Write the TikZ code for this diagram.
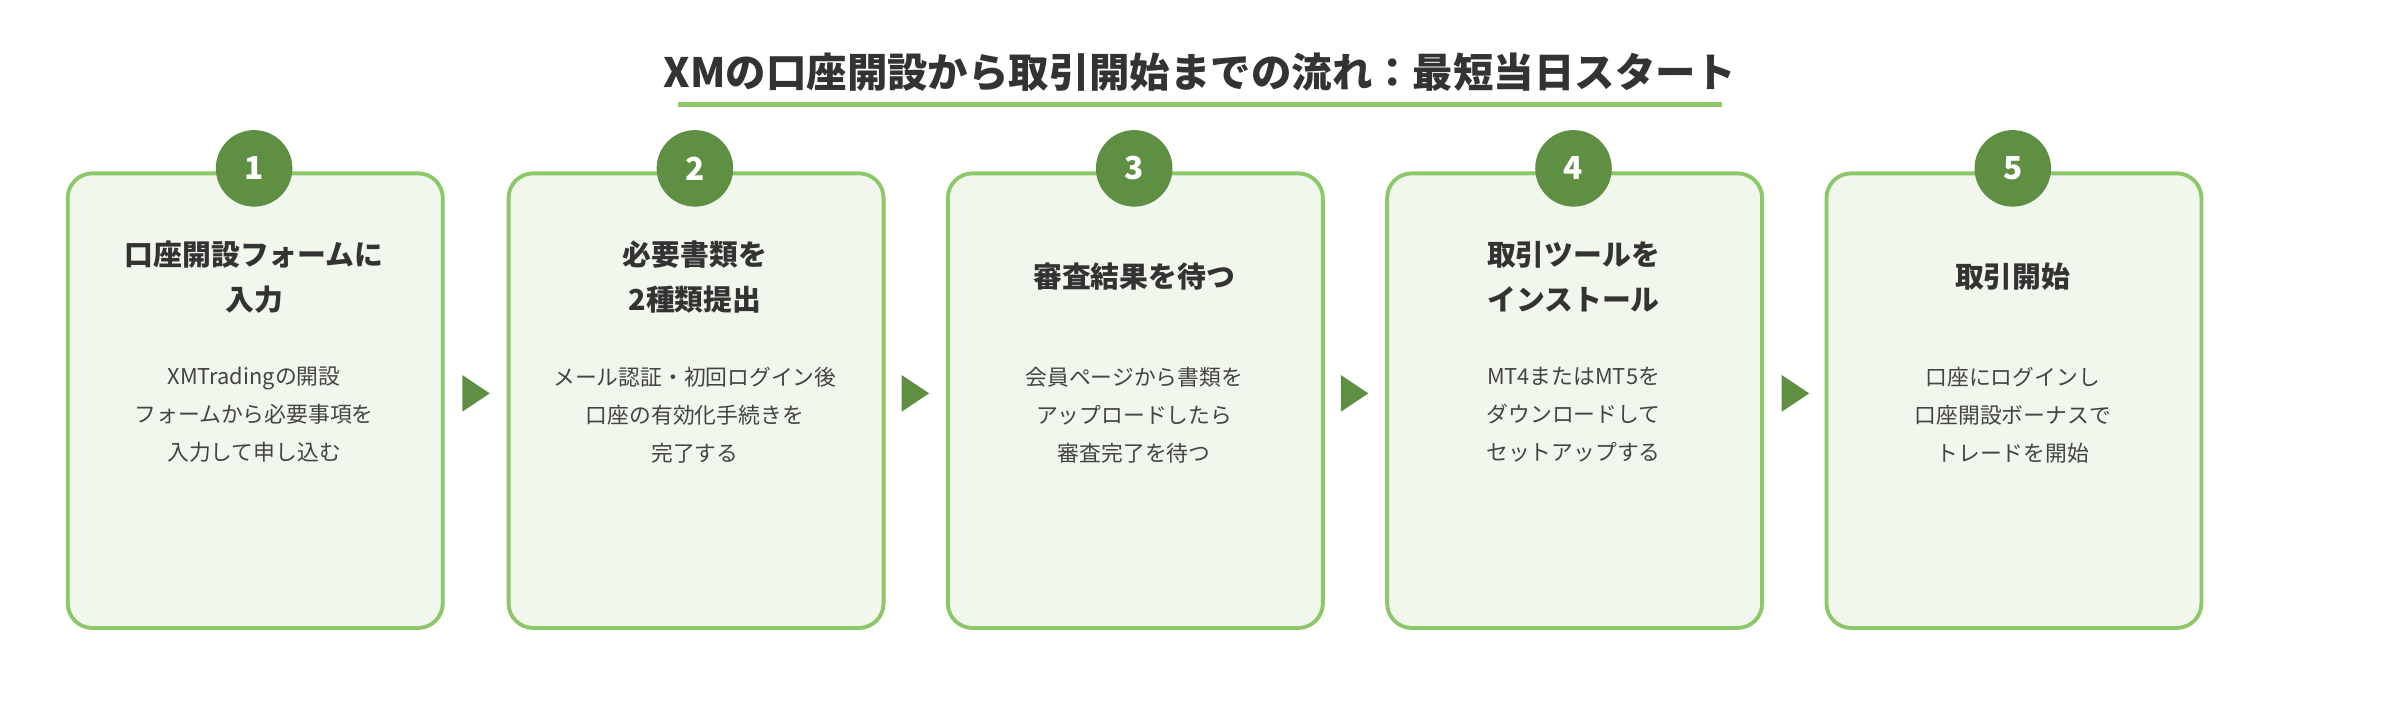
\documentclass[tikz,border=0pt]{standalone}
\usepackage{fontspec}
\setmainfont{Noto Sans CJK JP}
\definecolor{dk}{HTML}{5E8F42}
\definecolor{bd}{HTML}{8CC86A}
\definecolor{fl}{HTML}{F1F7EC}
\definecolor{tx}{HTML}{333333}
\definecolor{ds}{HTML}{444444}
\begin{document}
\begin{tikzpicture}[x=0.01531cm,y=-0.01531cm,
 box/.style={draw=bd,line width=1.1pt,fill=fl,rounded corners=7pt,minimum width=245*0.01531cm,minimum height=297*0.01531cm,anchor=north west},
 num/.style={circle,fill=dk,minimum size=50*0.01531cm,inner sep=0pt,text=white,font=\fontsize{9}{9}\selectfont\bfseries},
 ttl/.style={align=center,text=tx,font=\fontsize{8.2}{12.8}\selectfont\bfseries},
 dsc/.style={align=center,text=ds,font=\fontsize{6.2}{10.8}\selectfont}]
\useasboundingbox (0,0) rectangle (1568,470);
\node[text=tx,font=\fontsize{11.5}{12}\selectfont\bfseries] (title) at (784,47) {XMの口座開設から取引開始までの流れ：最短当日スタート};
\draw[bd,line width=1.4pt] (443,68) -- (1125,68);
\foreach \i/\x/\t/\d in {1/42/{口座開設フォームに\\入力}/{XMTradingの開設\\フォームから必要事項を\\入力して申し込む},
 2/330/{必要書類を\\2種類提出}/{メール認証・初回ログイン後\\口座の有効化手続きを\\完了する},
 3/617/{審査結果を待つ}/{会員ページから書類を\\アップロードしたら\\審査完了を待つ},
 4/904/{取引ツールを\\インストール}/{MT4またはMT5を\\ダウンロードして\\セットアップする},
 5/1191/{取引開始}/{口座にログインし\\口座開設ボーナスで\\トレードを開始}}{
 \node[box] (b\i) at (\x+1,112) {};
 \node[num] (n\i) at (\x+124,110) {\i};
 \node[ttl] (t\i) at (\x+124,181) {\t};
 \node[dsc] (d\i) at (\x+124,271) {\d};
}
\foreach \x in {302,589,876,1164}{
 \fill[dk] (\x,245) -- (\x+18,257) -- (\x,269) -- cycle;
}
\end{tikzpicture}
\end{document}
